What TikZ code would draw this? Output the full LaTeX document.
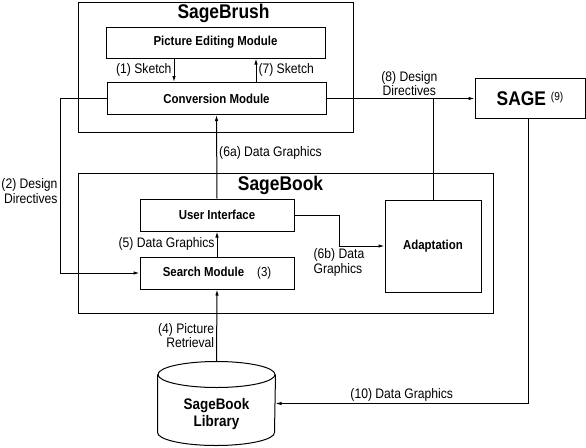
\documentclass[tikz,border=0pt]{standalone}
\usepackage{fontspec}
\setmainfont[FakeStretch=0.88]{Liberation Sans}
\usetikzlibrary{arrows.meta}

\tikzset{
    grp/.style={draw, inner sep=0pt},
    mod/.style={draw, inner sep=0pt, font=\fontsize{13}{15}\selectfont\bfseries},
    ttl/.style={font=\fontsize{19.8}{22}\selectfont\bfseries},
    lbl/.style={font=\fontsize{13.8}{14.5}\selectfont, inner sep=2pt},
}

\begin{document}
\begin{tikzpicture}[x=1pt, y=1pt, line width=1pt]
\useasboundingbox (0,0) rectangle (586,-447);

% outer groups
\node[grp, minimum width=275, minimum height=130] (brush) at (215.5,-67) {};
\node[grp, minimum width=415, minimum height=140] (book) at (285.5,-243) {};
\node[ttl] (brushttl) at (223.5,-13) {SageBrush};
\node[ttl] (bookttl) at (280.5,-185.5) {SageBook};

\begin{scope}[every node/.style={mod}]
    \node[minimum width=219, minimum height=31] (pem) at (215.5,-42.5) {Picture Editing Module};
    \node[minimum width=219, minimum height=32] (conv) at (216.5,-98.5) {Conversion Module};
    \node[minimum width=154, minimum height=32] (ui) at (217,-215) {User Interface};
    \node[minimum width=154, minimum height=32] (search) at (217,-273) {Search Module\quad{\mdseries(3)}};
    \node[minimum width=96, minimum height=92] (adapt) at (433,-246) {Adaptation};
    \node[minimum width=110, minimum height=40] (sage) at (530,-98.5) {\fontsize{19.8}{22}\selectfont SAGE \raisebox{4.5pt}{\fontsize{11.5}{12}\selectfont\mdseries(9)}};
\end{scope}

% library cylinder
\node[minimum width=117, minimum height=83, inner sep=0pt] (libshape) at (216.5,-403.5) {};
\node[font=\fontsize{15.3}{17}\selectfont\bfseries, align=center] (lib) at (216.5,-414.5) {SageBook\\Library};
\draw ([yshift=-13]libshape.north west) -- ([yshift=13]libshape.south west)
    arc[start angle=180, end angle=360, x radius=58.5, y radius=13]
    -- ([yshift=-13]libshape.north east);
\draw ([yshift=-13]libshape.north) ellipse [x radius=58.5, y radius=13];

\coordinate (sk1) at (174,0);
\coordinate (sk7) at (256,0);
\coordinate (dd) at (60,0);
\coordinate (jb) at (339,0);
\coordinate (sg) at (528,0);

\begin{scope}[-{Latex[length=6pt, width=3.5pt]}, every node/.style={lbl}]
    \draw (pem.south -| sk1) -- (conv.north -| sk1) node[midway, left]{(1) Sketch};
    \draw (conv.north -| sk7) -- (pem.south -| sk7) node[midway, right]{(7) Sketch};
    \draw (conv.west) -- (conv.west -| dd) -- (search.west -| dd) node[pos=0.53, left, align=right]{(2) Design\\Directives} -- (search.west);
    \draw (ui.north) -- (conv.south) node[pos=0.55, right]{(6a) Data Graphics};
    \draw (search.north) -- (ui.south) node[midway, left]{(5) Data Graphics};
    \draw (ui.east) -- (ui.east -| jb) |- (adapt.west) node[pos=0.5, below, align=left]{(6b) Data\\Graphics};
    \draw (conv.east) -- (sage.west) node[pos=0.56, above, align=center]{(8) Design\\Directives};
    \draw (libshape.north) -- (search.south) node[pos=0.36, left, align=right]{(4) Picture\\Retrieval};
    \draw (sage.south -| sg) |- (libshape.east) node[pos=0.75, above]{(10) Data Graphics};
\end{scope}
\draw (adapt.north) -- (adapt.north |- conv.east);

\end{tikzpicture}
\end{document}
